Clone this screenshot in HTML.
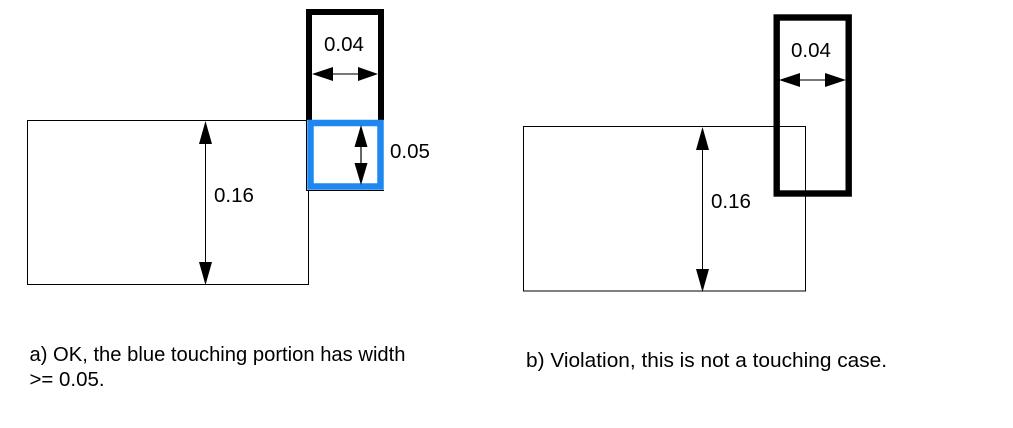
<!DOCTYPE html>
<html>
<head>
<meta charset="utf-8">
<style>
html,body{margin:0;padding:0;background:#fff;width:1013px;height:428px;overflow:hidden}
svg{display:block}
text{font-family:"Liberation Sans",sans-serif;font-size:20.500px;fill:#000}
</style>
</head>
<body>
<svg width="1013" height="428" viewBox="0 0 1013 428" xmlns="http://www.w3.org/2000/svg">
<!-- left diagram -->
<rect x="27.5" y="120.5" width="281" height="164" fill="#fff" stroke="#000" stroke-width="1"/>
<path d="M309 120V12H381V120" fill="none" stroke="#000" stroke-width="6"/>
<rect x="306.5" y="120" width="77" height="70" fill="#fff" stroke="none"/>
<path d="M306.5 120V190.500H384" fill="none" stroke="#000" stroke-width="1"/>
<rect x="310.500" y="123" width="70" height="63.500" fill="#fff" stroke="#1e88f0" stroke-width="6.500"/>
<!-- 0.04 left -->
<line x1="330" y1="74" x2="360" y2="74" stroke="#777" stroke-width="2"/>
<polygon points="312,74 333,67 333,81" fill="#000"/>
<polygon points="378,74 358,67 358,81" fill="#000"/>
<!-- 0.05 -->
<line x1="361" y1="140" x2="361" y2="168" stroke="#666" stroke-width="2"/>
<polygon points="361,125 354.500,147 367.500,147" fill="#000"/>
<polygon points="361,185 354.500,163 367.500,163" fill="#000"/>
<!-- 0.16 left -->
<line x1="205.500" y1="135" x2="205.500" y2="270" stroke="#000" stroke-width="1"/>
<polygon points="205.500,121 199,144 212,144" fill="#000"/>
<polygon points="205.500,285 199,262 212,262" fill="#000"/>
<text x="324" y="51">0.04</text>
<text x="390" y="158">0.05</text>
<text x="214" y="202">0.16</text>
<!-- right diagram -->
<rect x="523.500" y="126.500" width="282" height="164.500" fill="none" stroke="#000" stroke-width="1"/>
<rect x="776.700" y="17.500" width="72" height="176" fill="none" stroke="#000" stroke-width="6.400"/>
<line x1="797" y1="80" x2="827" y2="80" stroke="#777" stroke-width="2"/>
<polygon points="779,80 800,73 800,87" fill="#000"/>
<polygon points="846,80 825,73 825,87" fill="#000"/>
<line x1="702.500" y1="141" x2="702.500" y2="277" stroke="#000" stroke-width="1"/>
<polygon points="702.500,127 696,150 709,150" fill="#000"/>
<polygon points="702.500,292 696,269 709,269" fill="#000"/>
<text x="791" y="57">0.04</text>
<text x="711" y="208">0.16</text>
<!-- captions -->
<text x="29.500" y="361" textLength="376" lengthAdjust="spacingAndGlyphs">a) OK, the blue touching portion has width</text>
<text x="29.500" y="386" textLength="75" lengthAdjust="spacingAndGlyphs">&gt;= 0.05.</text>
<text x="526" y="367" textLength="361" lengthAdjust="spacingAndGlyphs">b) Violation, this is not a touching case.</text>
</svg>
</body>
</html>
